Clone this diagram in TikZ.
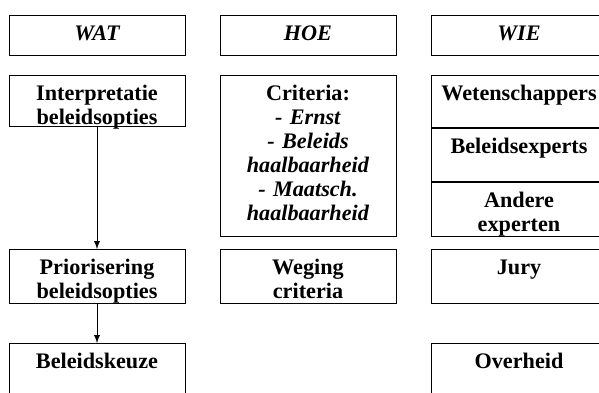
\documentclass[tikz,border=0pt]{standalone}
\usepackage{fontspec}
\setmainfont{Liberation Serif}
\usetikzlibrary{positioning}
\begin{document}
\begin{tikzpicture}[x=0.5pt, y=-0.5pt, >=latex,
	box/.style={draw, line width=0.5pt, anchor=north, inner sep=0pt,
		text width=88pt, align=center, text height=12.5pt, text depth=14.5pt,
		font=\fontsize{11.1}{12}\selectfont\bfseries},
	head/.style={box, text depth=7.5pt,
		font=\fontsize{11.1}{12}\selectfont\bfseries\itshape}]
	\useasboundingbox (0,0) rectangle (599,392);
	% Column headers
	\node (wat)			[head] at (97,15)		{WAT};
	\node (hoe)			[head] at (308,15)	{HOE};
	\node (wie)			[head] at (519,15)	{WIE};

	% WAT column
	\node (interp)	[box, text depth=13pt] at (97,75)
									{Interpretatie\\beleidsopties};
	\node (prior)		[box] at (97,249)		{Priorisering\\beleidsopties};
	\node (keuze)		[box] at (97,343)		{Beleidskeuze};

	% HOE column
	\node (criteria)[box, text depth=68pt] at (308,75)
									{Criteria:\\\textit{- Ernst}\\\textit{- Beleids}\\\textit{haalbaarheid}\\\textit{- Maatsch.}\\\textit{haalbaarheid}};
	\node (weging)	[box] at (308,249)	{Weging\\criteria};

	% WIE column
	\node (wetensch)[box, text depth=13.5pt] at (519,75)	{Wetenschappers};
	\node (bexperts)[box, text depth=14pt] at (wetensch.south)	{Beleidsexperts};
	\node (andere)	[box] at (bexperts.south)	{Andere\\experten};
	\node (jury)		[box] at (519,249)	{Jury};
	\node (overheid)[box] at (519,343)	{Overheid};

	% Arrows between the WAT steps
	\draw[->]				(interp) -- (prior);
	\draw[->]				(prior) -- (keuze);
\end{tikzpicture}
\end{document}
